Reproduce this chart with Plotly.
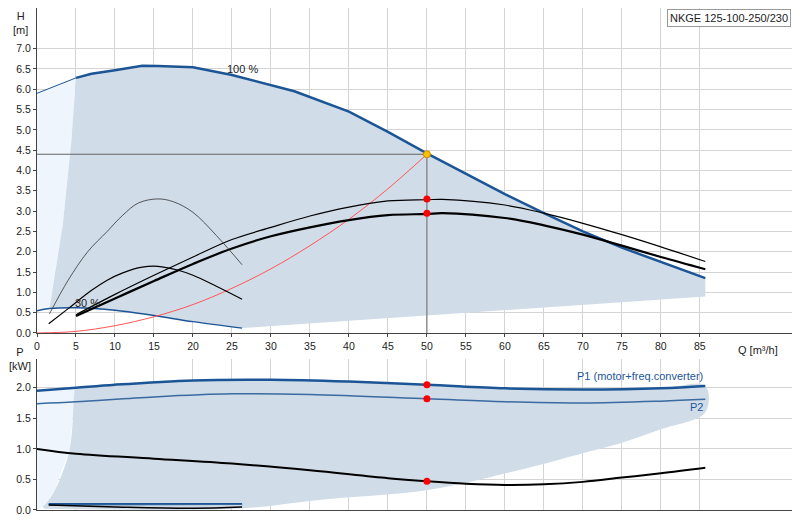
import plotly.graph_objects as go

# --- data ---
q_max = [0, 5, 7, 10, 13.5, 15.5, 20, 25, 28, 33, 40, 45, 50, 55, 60, 65, 70, 75, 80, 85.7]
h_max = [5.9, 6.28, 6.38, 6.47, 6.58, 6.57, 6.54, 6.35, 6.2, 5.95, 5.45, 4.95, 4.42, 3.92, 3.42, 2.95, 2.5, 2.1, 1.75, 1.35]
q_min = [0, 1.6, 5, 10, 15, 20, 26.3]
h_min = [0.55, 0.6, 0.62, 0.56, 0.43, 0.28, 0.12]
q_left = [1.6, 3.3, 4.4, 5]
h_left = [0.6, 2.65, 4.7, 6.28]
q_sys = [0, 5, 10, 15, 20, 25, 30, 35, 40, 45, 50]
h_sys = [0, 0.04, 0.18, 0.4, 0.7, 1.1, 1.58, 2.15, 2.8, 3.55, 4.4]
q_eta = [5, 10, 15, 20, 25, 30, 35, 40, 45, 50, 52, 60, 65, 70, 75, 80, 85.7]
eta_pump = [4.2, 8.5, 12.8, 17, 20.8, 23.8, 26, 27.8, 29, 29.3, 29.5, 28.3, 26.5, 24.2, 21.5, 18.7, 15.7]
eta_tot = [4.5, 9.5, 14.2, 18.7, 23, 26, 28.8, 31, 32.5, 32.8, 32.9, 31.5, 29.5, 27, 24.2, 21.2, 17.6]
q_eta_low = [1.6, 4, 6.5, 9, 11, 13, 15.5, 17.5, 20, 23, 26.3]
eta_tot_low = [4.7, 13, 20, 25, 29, 32, 33, 32.3, 29.7, 24, 16.8]
q_eta_low2 = [1.5, 4, 7, 9, 11, 13.5, 15.5, 18, 20, 23, 26.3]
eta_pump_low = [2.3, 6, 10.5, 13, 14.8, 16.2, 16.4, 15.5, 14.2, 11.5, 8.3]
q_duty = 50
h_duty = 4.4
eta_duty = [33, 29.5]

q_p = [0, 5, 10, 20, 30, 40, 50, 60, 70, 80, 85.7]
p1 = [1.95, 2.0, 2.05, 2.12, 2.13, 2.1, 2.05, 1.99, 1.97, 1.99, 2.03]
q_p2 = [0, 5, 15, 25, 35, 50, 60, 70, 80, 85.7]
p2 = [1.74, 1.77, 1.85, 1.9, 1.89, 1.82, 1.77, 1.75, 1.78, 1.81]
q_npsh = [0, 5, 15, 25, 35, 45, 50, 55, 60, 65, 70, 75, 80, 85.7]
npsh = [2.0, 1.84, 1.68, 1.52, 1.3, 1.04, 0.94, 0.86, 0.82, 0.84, 0.92, 1.06, 1.2, 1.38]
q_low = [1.5, 10, 20, 26.3]
p1_low = [0.1, 0.1, 0.1, 0.1]
p2_low = [0.08, 0.085, 0.09, 0.09]
npsh_low = [0.16, 0.1, 0.06, 0.1]
q_pleft = [0.7, 2.2, 4.2, 4.9]
p_pleft = [0.05, 0.3, 1.0, 2.0]
q_plow = [85.7, 80, 75, 70, 62, 50.3, 35.8, 26.5, 1]
p_plow = [1.6, 1.32, 1.1, 0.93, 0.66, 0.33, 0.16, 0.03, 0.02]
p_duty = [2.05, 1.82]
npsh_duty = 0.94

BLUE = "#1c5596"
DARK = "#d0dce8"
LIGHT = "#eef5fc"

fig = go.Figure()

# top chart shading
i5 = q_max.index(5)
fig.add_trace(go.Scatter(
    x=[0, 0] + q_max[1:i5 + 1] + q_left[::-1][1:],
    y=[h_min[0], h_max[0]] + h_max[1:i5 + 1] + h_left[::-1][1:],
    fill="toself", fillcolor=LIGHT, line=dict(width=0), mode="lines"))
fig.add_trace(go.Scatter(
    x=q_left + q_max[i5 + 1:] + [85.7] + q_min[::-1][:-1],
    y=h_left + h_max[i5 + 1:] + [0.9] + h_min[::-1][:-1],
    fill="toself", fillcolor=DARK, line=dict(width=0), mode="lines"))

# duty guides
fig.add_trace(go.Scatter(x=[0, q_duty, q_duty], y=[h_duty, h_duty, 0], mode="lines",
                         line=dict(color="#666", width=1)))
fig.add_trace(go.Scatter(x=q_max[:2], y=h_max[:2], mode="lines", line=dict(color=BLUE, width=1)))
fig.add_trace(go.Scatter(x=q_max[1:], y=h_max[1:], mode="lines", line=dict(color=BLUE, width=2.5)))
fig.add_trace(go.Scatter(x=q_min, y=h_min, mode="lines", line=dict(color=BLUE, width=1.5, shape="spline")))
fig.add_trace(go.Scatter(x=q_sys, y=h_sys, mode="lines", line=dict(color="#ff5555", width=1, shape="spline")))
fig.add_trace(go.Scatter(x=q_eta, y=eta_tot, yaxis="y2", mode="lines", line=dict(color="black", width=1.2, shape="spline")))
fig.add_trace(go.Scatter(x=q_eta, y=eta_pump, yaxis="y2", mode="lines", line=dict(color="black", width=2.2, shape="spline")))
fig.add_trace(go.Scatter(x=q_eta_low, y=eta_tot_low, yaxis="y2", mode="lines", line=dict(color="#333", width=0.8, shape="spline")))
fig.add_trace(go.Scatter(x=q_eta_low2, y=eta_pump_low, yaxis="y2", mode="lines", line=dict(color="black", width=1.2, shape="spline")))
fig.add_trace(go.Scatter(x=[q_duty, q_duty], y=eta_duty, yaxis="y2", mode="markers", marker=dict(color="red", size=7)))
fig.add_trace(go.Scatter(x=[q_duty], y=[h_duty], mode="markers", marker=dict(color="#ffc000", size=7, line=dict(color="#cc8800", width=1))))

# bottom chart shading
fig.add_trace(go.Scatter(
    x=[0, 0, 5] + q_pleft[::-1], y=[0, p1[0], p1[1]] + p_pleft[::-1],
    xaxis="x2", yaxis="y3", fill="toself", fillcolor=LIGHT, line=dict(width=0), mode="lines"))
fig.add_trace(go.Scatter(
    x=q_pleft + q_p[1:] + q_plow, y=p_pleft + p1[1:] + p_plow,
    xaxis="x2", yaxis="y3", fill="toself", fillcolor=DARK, line=dict(width=0), mode="lines", line_shape="spline"))
fig.add_trace(go.Scatter(x=q_p, y=p1, xaxis="x2", yaxis="y3", mode="lines", line=dict(color=BLUE, width=2.5, shape="spline")))
fig.add_trace(go.Scatter(x=q_p2, y=p2, xaxis="x2", yaxis="y3", mode="lines", line=dict(color="#3a6aa0", width=1.5, shape="spline")))
fig.add_trace(go.Scatter(x=q_npsh, y=npsh, xaxis="x2", yaxis="y4", mode="lines", line=dict(color="black", width=2, shape="spline")))
fig.add_trace(go.Scatter(x=q_low, y=p1_low, xaxis="x2", yaxis="y3", mode="lines", line=dict(color=BLUE, width=2)))
fig.add_trace(go.Scatter(x=q_low, y=p2_low, xaxis="x2", yaxis="y3", mode="lines", line=dict(color="#3a6aa0", width=1)))
fig.add_trace(go.Scatter(x=q_low, y=npsh_low, xaxis="x2", yaxis="y4", mode="lines", line=dict(color="black", width=1.5, shape="spline")))
fig.add_trace(go.Scatter(x=[q_duty, q_duty], y=p_duty, xaxis="x2", yaxis="y3", mode="markers", marker=dict(color="red", size=7)))
fig.add_trace(go.Scatter(x=[q_duty], y=[npsh_duty], xaxis="x2", yaxis="y4", mode="markers", marker=dict(color="red", size=7)))

grid = "#d4d4d4"
ax = dict(showgrid=True, gridcolor=grid, zeroline=False, showline=True, linecolor="#444",
          ticks="outside", ticklen=3, tickcolor="#444", automargin=False, tickfont=dict(size=10.5))
txt = dict(size=11, color="#222")

fig.update_layout(
    width=800, height=520, showlegend=False, plot_bgcolor="white", paper_bgcolor="white",
    font=dict(family="Liberation Sans, Arial", size=11, color="#222"),
    margin=dict(l=29, r=13, t=0, b=18),
    xaxis=dict(ax, domain=[0, 1], range=[0, 97.2], tickvals=list(range(0, 90, 5)), anchor="y"),
    yaxis=dict(ax, domain=[0.3526, 1], range=[0, 8], tickvals=[i * 0.5 for i in range(15)],
               tickformat=".1f"),
    yaxis2=dict(ax, overlaying="y", side="right", range=[0, 80], tickvals=list(range(0, 60, 5)),
                showgrid=False),
    xaxis2=dict(ax, domain=[0, 1], range=[0, 97.2], tickvals=list(range(0, 90, 5)),
                showticklabels=False, anchor="y3", ticks=""),
    yaxis3=dict(ax, domain=[0, 0.3008], range=[0, 2.47], tickvals=[0, 0.5, 1, 1.5, 2],
                tickformat=".1f", anchor="x2"),
    yaxis4=dict(ax, overlaying="y3", side="right", range=[0, 4.94], tickvals=[0, 1, 2, 3, 4],
                showgrid=False, anchor="x2"),
    annotations=[
        dict(text="H<br>[m]", xref="paper", yref="paper", x=-0.022, y=1.0, xanchor="center", yanchor="top", showarrow=False, font=txt),
        dict(text="eta<br>[%]", xref="paper", yref="paper", x=1.022, y=1.0, xanchor="center", yanchor="top", showarrow=False, font=txt),
        dict(text="Q [m³/h]", x=92.5, y=0, xref="x", yref="y", yshift=-17, showarrow=False, font=txt),
        dict(text="100 %", x=26.3, y=6.5, xref="x", yref="y", showarrow=False, font=txt),
        dict(text="30 %", x=6.5, y=0.75, xref="x", yref="y", showarrow=False, font=txt),
        dict(text="NKGE 125-100-250/230", xref="paper", yref="paper", x=0.995, y=0.998, xanchor="right",
             yanchor="top", showarrow=False, font=txt, bordercolor="#999", borderwidth=1, bgcolor="white", borderpad=2),
        dict(text="P<br>[kW]", xref="paper", yref="paper", x=-0.022, y=0.33, xanchor="center", yanchor="top", showarrow=False, font=txt),
        dict(text="NPSH<br>[m]", xref="paper", yref="paper", x=1.008, y=0.33, xanchor="left", yanchor="top", showarrow=False, font=txt),
        dict(text="P1 (motor+freq.converter)", x=85.7, y=2.2, xref="x2", yref="y3", xanchor="right", showarrow=False, font=dict(size=11, color=BLUE)),
        dict(text="P2", x=85.7, y=1.68, xref="x2", yref="y3", xanchor="right", showarrow=False, font=dict(size=11, color=BLUE)),
    ],
)

fig.write_html("out.html")
